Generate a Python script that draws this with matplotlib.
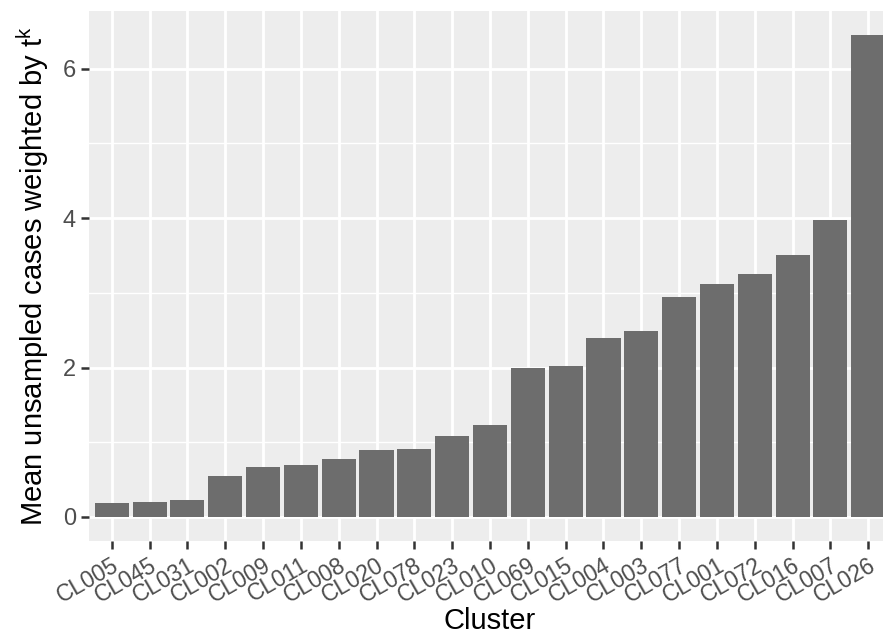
import numpy as np
import matplotlib
matplotlib.use("Agg")
import matplotlib.pyplot as plt

clusters = ["CL005", "CL045", "CL031", "CL002", "CL009", "CL011", "CL008",
            "CL020", "CL078", "CL023", "CL010", "CL069", "CL015", "CL004",
            "CL003", "CL077", "CL001", "CL072", "CL016", "CL007", "CL026"]
values = [0.18, 0.20, 0.22, 0.545, 0.67, 0.69, 0.77, 0.89, 0.91, 1.08, 1.23,
          2.00, 2.02, 2.40, 2.49, 2.94, 3.12, 3.25, 3.51, 3.97, 6.45]

plt.rcParams['font.family'] = ['Liberation Sans', 'DejaVu Sans']

fig = plt.figure(figsize=(8.83, 6.39), dpi=100)
ax = fig.add_axes([89/883, 1 - 541/639, 802/883, 530/639])

x = np.arange(len(clusters))
ax.set_facecolor("#EDEDED")
ax.bar(x, values, width=0.9, color="#6D6D6D", zorder=3)

ymax = max(values)
ax.set_ylim(-0.05 * ymax, ymax * 1.05)
ax.set_xlim(-0.6, len(clusters) - 0.4)

ax.set_yticks([0, 2, 4, 6])
ax.set_yticks([1, 3, 5], minor=True)
ax.set_xticks(x)
ax.set_xticklabels(clusters, rotation=30, ha="right", rotation_mode="anchor")

ax.grid(which="major", color="white", linewidth=2.0, zorder=0)
ax.grid(which="minor", axis="y", color="white", linewidth=1.0, zorder=0)
ax.set_axisbelow(True)

for s in ax.spines.values():
    s.set_visible(False)

ax.tick_params(axis="both", which="major", color="#333333", length=6, width=1.8,
               labelcolor="#4D4D4D", labelsize=17)
ax.tick_params(axis="y", which="minor", length=0)
ax.tick_params(axis="x", pad=3, labelsize=16.5)

ax.set_xlabel("Cluster", fontsize=21, color="black", labelpad=0)
ax.set_ylabel("Mean unsampled cases weighted by $\\mathregular{t^k}$", fontsize=21,
              color="black", labelpad=8)

fig.savefig("out.png", dpi=100)
